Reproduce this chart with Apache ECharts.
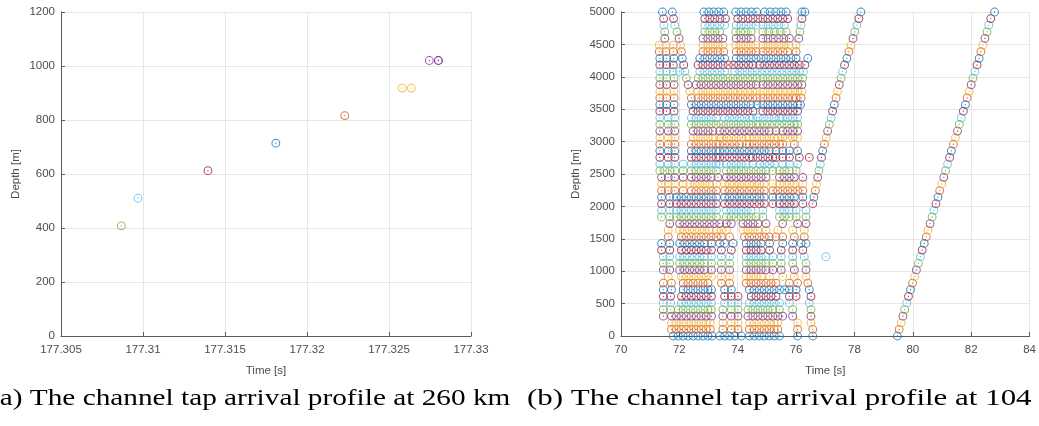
<!DOCTYPE html>
<html><head><meta charset="utf-8">
<script src="https://cdn.jsdelivr.net/npm/echarts@6/dist/echarts.min.js"></script>
<style>html,body{margin:0;padding:0;background:#fff;}#c{width:1039px;height:426px;}</style>
</head><body><div id="c"></div>
<script>
// MATLAB default colour order (colour of a row = row index mod 7)
const palette = ['#0072BD','#D95319','#EDB120','#7E2F8E','#77AC30','#4DBEEE','#A2142F'];

// ---- (a) 260 km ----
const leftTimes  = [177.30868, 177.30969, 177.31396, 177.31810, 177.32230, 177.32580, 177.32636, 177.32746, 177.32800, 177.32802];
const leftDepths = [408.16, 510.20, 612.24, 714.29, 816.33, 918.37, 918.37, 1020.41, 1020.41, 1020.41];
const leftRows   = [4, 5, 6, 7, 8, 9, 9, 10, 10, 10];
const leftXTicks = [177.305, 177.31, 177.315, 177.32, 177.325, 177.33];

// ---- (b) 104 km ----
const rightDepths = [0, 102.04, 204.08, 306.12, 408.16, 510.20, 612.24, 714.29, 816.33, 918.37,
  1020.41, 1122.45, 1224.49, 1326.53, 1428.57, 1530.61, 1632.65, 1734.69, 1836.73, 1938.78,
  2040.82, 2142.86, 2244.90, 2346.94, 2448.98, 2551.02, 2653.06, 2755.10, 2857.14, 2959.18,
  3061.22, 3163.27, 3265.31, 3367.35, 3469.39, 3571.43, 3673.47, 3775.51, 3877.55, 3979.59,
  4081.63, 4183.67, 4285.71, 4387.76, 4489.80, 4591.84, 4693.88, 4795.92, 4897.96, 5000];

const rightTimes = [
 [71.79,71.96,72.13,72.30,72.47,72.64,72.81,72.98,73.12,73.38,73.55,73.72,73.90,74.12,74.40,74.57,74.74,74.91,75.08,75.25,75.43,76.05,76.57,79.47],
 [71.73,71.90,72.07,72.24,72.41,72.58,72.75,72.92,73.06,73.49,73.78,74.01,74.40,74.57,74.74,74.91,75.08,75.25,75.37,76.05,76.57,79.53],
 [71.73,71.90,72.07,72.24,72.41,72.58,72.75,72.92,73.06,73.49,73.78,74.01,74.40,74.57,74.74,74.91,75.08,75.25,75.37,76.05,76.51,79.60],
 [71.45,71.73,71.90,72.07,72.24,72.41,72.58,72.75,72.92,73.10,73.49,73.78,74.01,74.35,74.52,74.69,74.86,75.03,75.20,75.37,75.54,75.88,76.51,79.66],
 [71.45,71.70,71.96,72.13,72.30,72.47,72.64,72.81,72.98,73.10,73.49,73.78,74.01,74.35,74.52,74.69,74.86,75.03,75.20,75.43,75.88,76.51,79.72],
 [71.45,71.70,72.07,72.24,72.41,72.58,72.75,72.92,73.10,73.55,73.78,74.01,74.40,74.57,74.74,74.91,75.08,75.25,75.43,75.77,76.45,79.79],
 [71.45,71.70,72.07,72.24,72.41,72.58,72.75,72.92,73.10,73.55,73.78,74.01,74.46,74.63,74.80,74.97,75.14,75.31,75.77,76.00,76.51,79.85],
 [71.45,71.73,72.13,72.30,72.47,72.64,72.81,72.98,73.10,73.55,73.78,74.40,74.57,74.74,74.91,75.08,75.25,75.43,75.60,75.77,76.00,76.45,79.92],
 [71.45,71.73,72.13,72.30,72.47,72.64,72.81,72.98,73.44,73.72,74.29,74.46,74.63,74.80,74.97,75.14,75.31,75.77,76.05,76.40,79.99],
 [71.62,72.07,72.24,72.41,72.58,72.75,72.92,73.10,73.44,73.72,74.29,74.46,74.63,74.80,75.09,75.54,75.94,76.34,80.06],
 [71.45,71.67,72.01,72.18,72.35,72.52,72.69,72.86,73.10,73.44,73.72,74.29,74.46,74.63,74.80,74.97,75.20,75.49,75.94,76.34,80.12],
 [71.45,71.67,72.01,72.18,72.35,72.52,72.69,72.86,73.10,73.44,73.72,74.29,74.46,74.63,74.80,74.97,75.20,75.49,75.88,76.34,80.19],
 [71.45,71.67,72.01,72.18,72.35,72.52,72.69,72.86,73.10,73.44,73.72,74.29,74.46,74.63,74.80,74.97,75.20,75.49,75.88,76.28,77.02,80.26],
 [71.39,71.67,72.07,72.24,72.41,72.58,72.75,72.92,73.10,73.44,73.78,74.29,74.46,74.63,74.80,75.09,75.49,75.88,76.23,80.32],
 [71.39,71.67,72.01,72.18,72.35,72.52,72.69,72.86,73.10,73.38,73.55,73.84,74.29,74.46,74.63,74.80,75.09,75.54,75.88,76.17,76.34,80.39],
 [71.62,72.07,72.24,72.41,72.58,72.75,72.92,73.09,73.27,73.44,73.72,74.23,74.40,74.57,74.74,74.91,75.08,75.31,75.54,75.94,76.28,80.46],
 [71.62,72.01,72.18,72.35,72.52,72.69,72.86,73.03,73.27,73.44,73.61,74.18,74.35,74.52,74.69,74.97,75.37,75.88,76.28,80.52],
 [71.67,72.01,72.18,72.35,72.52,72.69,72.86,73.03,73.20,73.38,73.61,73.78,74.18,74.35,74.52,74.69,74.97,75.54,76.05,76.34,80.59],
 [71.39,71.67,71.90,72.07,72.24,72.41,72.58,72.75,72.92,73.09,73.27,73.61,73.78,73.95,74.12,74.29,74.46,74.63,74.86,75.43,75.60,75.77,76.00,76.34,80.66],
 [71.39,71.67,71.90,72.07,72.24,72.41,72.58,72.75,72.92,73.09,73.27,73.61,73.78,73.95,74.12,74.29,74.46,74.86,75.43,75.60,75.77,76.00,76.34,80.72],
 [71.39,71.67,71.90,72.07,72.24,72.41,72.58,72.75,72.92,73.09,73.27,73.55,73.72,73.89,74.06,74.23,74.40,74.57,74.74,74.91,75.20,75.43,75.60,75.77,75.94,76.23,76.57,80.79],
 [71.39,71.67,71.90,72.07,72.24,72.41,72.58,72.75,72.92,73.09,73.27,73.55,73.72,73.89,74.06,74.23,74.40,74.57,74.74,74.91,75.20,75.43,75.60,75.77,75.94,76.23,76.61,80.86],
 [71.39,71.62,71.84,72.13,72.41,72.58,72.75,72.92,73.09,73.27,73.55,73.72,73.89,74.06,74.23,74.40,74.57,74.74,74.91,75.20,75.37,75.54,75.71,75.88,76.05,76.23,76.66,80.92],
 [71.39,71.62,71.84,72.13,72.36,72.53,72.70,72.87,73.04,73.27,73.55,73.72,73.89,74.06,74.23,74.40,74.57,74.74,74.91,75.20,75.43,75.60,75.77,75.94,76.23,76.70,80.99],
 [71.39,71.62,71.84,72.13,72.41,72.58,72.75,72.92,73.09,73.32,73.61,73.78,73.95,74.12,74.29,74.46,74.63,74.80,74.97,75.43,75.60,75.77,75.94,76.23,76.74,81.06],
 [71.33,71.50,71.67,71.84,72.13,72.41,72.58,72.75,72.92,73.09,73.27,73.61,73.78,73.95,74.12,74.29,74.46,74.63,74.80,74.97,75.20,75.43,75.60,75.77,76.00,76.78,81.12],
 [71.33,71.62,71.84,72.13,72.41,72.58,72.75,72.92,73.09,73.26,73.38,73.61,73.78,73.95,74.12,74.29,74.52,74.75,74.92,75.09,75.26,75.54,75.77,76.05,76.83,81.19],
 [71.33,71.62,71.84,72.41,72.58,72.75,72.92,73.09,73.26,73.38,73.55,73.72,73.89,74.06,74.23,74.40,74.52,74.69,74.86,75.03,75.20,75.31,75.54,75.77,76.11,76.45,76.87,81.26],
 [71.33,71.62,71.84,72.41,72.58,72.75,72.92,73.09,73.26,73.38,73.55,73.72,73.89,74.06,74.23,74.40,74.57,74.74,74.91,75.08,75.31,75.54,75.77,76.05,76.91,81.32],
 [71.33,71.62,71.84,72.41,72.58,72.75,72.92,73.09,73.26,73.38,73.55,73.72,73.89,74.06,74.29,74.40,74.57,74.74,74.91,75.08,75.25,75.43,75.54,75.94,76.97,81.39],
 [71.33,71.62,71.84,72.47,72.64,72.81,72.98,73.15,73.38,73.44,73.61,73.78,73.95,74.12,74.29,74.40,74.57,74.74,74.91,75.08,75.25,75.37,75.54,75.71,75.88,76.05,77.03,81.46],
 [71.33,71.62,71.84,72.47,72.64,72.81,72.98,73.15,73.38,73.55,73.72,73.89,74.06,74.23,74.40,74.57,74.74,74.91,75.08,75.31,75.54,75.71,75.88,76.05,77.08,81.53],
 [71.33,71.62,71.84,72.41,72.58,72.75,72.92,73.09,73.26,73.43,73.60,73.77,73.94,74.11,74.28,74.45,74.63,74.75,74.92,75.09,75.26,75.43,75.60,75.77,75.94,76.05,77.14,81.59],
 [71.33,71.62,71.84,72.41,72.58,72.75,72.92,73.09,73.27,73.55,73.72,73.89,74.06,74.23,74.40,74.52,74.70,74.88,75.06,75.24,75.43,75.54,75.71,75.88,76.05,77.20,81.66],
 [71.33,71.56,71.82,72.47,72.64,72.81,72.98,73.15,73.32,73.49,73.66,73.83,74.00,74.17,74.34,74.52,74.86,75.03,75.20,75.37,75.54,75.71,75.88,76.05,77.25,81.73],
 [71.33,71.56,71.82,72.41,72.58,72.75,72.92,73.09,73.26,73.43,73.60,73.77,73.94,74.11,74.28,74.45,74.66,74.86,75.03,75.20,75.37,75.54,75.71,75.88,76.05,76.15,77.31,81.80],
 [71.33,71.56,71.82,72.41,72.64,72.81,72.98,73.15,73.32,73.49,73.66,73.83,74.00,74.17,74.34,74.51,74.66,74.86,75.03,75.20,75.37,75.54,75.71,75.88,76.00,76.17,77.37,81.86],
 [71.33,71.56,71.82,72.36,72.64,72.81,72.98,73.15,73.32,73.49,73.66,73.83,74.00,74.17,74.34,74.51,74.66,74.86,75.03,75.20,75.37,75.54,75.71,75.88,76.05,76.20,77.42,81.93],
 [71.33,71.56,71.82,72.30,72.58,72.75,72.92,73.09,73.26,73.43,73.60,73.77,73.94,74.11,74.28,74.45,74.63,74.86,75.03,75.20,75.37,75.54,75.71,75.88,76.05,76.20,77.48,82.00],
 [71.33,71.56,71.82,72.24,72.64,72.81,72.98,73.15,73.32,73.49,73.66,73.83,74.00,74.17,74.34,74.51,74.66,74.86,75.03,75.20,75.37,75.54,75.71,75.88,76.05,76.22,77.54,82.06],
 [71.33,71.56,71.79,72.00,72.19,72.70,72.87,73.04,73.21,73.38,73.55,73.90,74.07,74.24,74.41,74.58,74.75,74.92,75.09,75.26,75.43,75.60,75.77,75.94,76.11,76.25,77.59,82.13],
 [71.33,71.56,71.79,72.15,72.64,72.81,72.98,73.15,73.32,73.50,73.68,73.86,74.03,74.20,74.37,74.52,74.75,74.92,75.09,75.26,75.43,75.60,75.77,75.94,76.11,76.30,77.66,82.20],
 [71.33,71.56,71.81,72.10,72.70,72.87,73.04,73.21,73.38,73.55,73.95,74.12,74.29,74.46,74.63,74.80,74.97,75.14,75.31,75.48,75.65,75.82,76.00,76.40,77.74,82.27],
 [71.31,71.54,71.79,72.07,72.81,72.98,73.15,73.32,73.52,73.95,74.12,74.29,74.46,74.63,74.86,75.03,75.20,75.37,75.54,75.71,76.00,77.81,82.33],
 [71.31,71.54,71.79,72.04,72.81,72.98,73.15,73.32,73.49,73.93,74.10,74.27,74.45,74.62,74.86,75.04,75.22,75.40,75.58,75.75,76.00,77.88,82.40],
 [71.50,71.99,72.81,72.98,73.15,73.32,73.49,73.95,74.12,74.29,74.46,74.86,75.04,75.22,75.40,75.58,75.77,76.09,77.95,82.47],
 [71.50,71.92,72.87,73.04,73.21,73.38,73.93,74.10,74.27,74.46,74.86,75.06,75.26,75.46,75.66,76.13,78.01,82.54],
 [71.47,71.84,72.87,73.04,73.21,73.38,73.55,73.95,74.12,74.29,74.46,74.63,74.86,75.04,75.22,75.40,75.60,76.17,78.08,82.60],
 [71.46,71.80,72.87,73.04,73.21,73.39,73.58,74.00,74.17,74.35,74.52,74.69,74.86,75.03,75.20,75.37,75.54,75.71,76.20,78.15,82.67],
 [71.42,71.76,72.84,73.01,73.18,73.35,73.52,73.93,74.11,74.29,74.47,74.65,74.92,75.11,75.30,75.48,75.66,76.20,76.30,78.22,82.80]
];
const rightXTicks = [70, 72, 74, 76, 78, 80, 82, 84];
const rightYTicks = [0, 500, 1000, 1500, 2000, 2500, 3000, 3500, 4000, 4500, 5000];

const leftCaption  = '(a) The channel tap arrival profile at 260 km';
const rightCaption = '(b) The channel tap arrival profile at 104';

// ---- build items ----
function ring(t, d, row) { return {value: [t, d], itemStyle: {borderColor: palette[row % 7]}}; }
function dot(t, d, row)  { return {value: [t, d], itemStyle: {color: palette[row % 7]}}; }

const leftRing = [], leftDot = [];
leftTimes.forEach((t, k) => { leftRing.push(ring(t, leftDepths[k], leftRows[k])); leftDot.push(dot(t, leftDepths[k], leftRows[k])); });
const rightRing = [], rightDot = [];
rightTimes.forEach((row, i) => row.forEach(t => { rightRing.push(ring(t, rightDepths[i], i)); rightDot.push(dot(t, rightDepths[i], i)); }));

const txt = '#4d4d4d', axisCol = '#5a5a5a', gridCol = '#e6e6e6';
const FONT = 'Liberation Sans, Arial, sans-serif';
function xAx(idx, min, max, interval, fmt) {
  return {type: 'value', gridIndex: idx, min, max, interval,
    name: 'Time [s]', nameLocation: 'middle', nameGap: 29,
    nameTextStyle: {color: txt, fontSize: 11.5, fontFamily: FONT},
    axisLine: {show: true, onZero: false, lineStyle: {color: axisCol, width: 1}},
    axisTick: {show: true, inside: true, length: 4, lineStyle: {color: axisCol}},
    axisLabel: {color: txt, fontSize: 11.5, fontFamily: FONT, margin: 8, formatter: fmt},
    splitLine: {show: true, lineStyle: {color: gridCol, width: 1}}};
}
function yAx(idx, min, max, interval, gap) {
  return {type: 'value', gridIndex: idx, min, max, interval,
    name: 'Depth [m]', nameLocation: 'middle', nameGap: gap, nameRotate: 90,
    nameTextStyle: {color: txt, fontSize: 11.5, fontFamily: FONT},
    axisLine: {show: true, onZero: false, lineStyle: {color: axisCol, width: 1}},
    axisTick: {show: true, inside: true, length: 4, lineStyle: {color: axisCol}},
    axisLabel: {color: txt, fontSize: 11.5, fontFamily: FONT, margin: 6, formatter: v => String(v)},
    splitLine: {show: true, lineStyle: {color: gridCol, width: 1}}};
}
function ringSeries(idx, data) {
  return {type: 'scatter', xAxisIndex: idx, yAxisIndex: idx, symbol: 'circle', symbolSize: 7.8,
    itemStyle: {color: 'rgba(0,0,0,0)', borderWidth: 1}, data, silent: true, large: false};
}
function dotSeries(idx, data) {
  return {type: 'scatter', xAxisIndex: idx, yAxisIndex: idx, symbol: 'circle', symbolSize: 1.3,
    itemStyle: {opacity: 0.9}, data, silent: true, large: false};
}

const chart = echarts.init(document.getElementById('c'), null, {renderer: 'canvas'});
chart.setOption({
  animation: false,
  backgroundColor: '#ffffff',
  grid: [
    {left: 61, top: 12, width: 410, height: 324},
    {left: 621, top: 12, width: 410, height: 324}
  ],
  xAxis: [
    xAx(0, leftXTicks[0], leftXTicks[leftXTicks.length - 1], 0.005, v => String(+v.toFixed(3))),
    xAx(1, rightXTicks[0], rightXTicks[rightXTicks.length - 1], 2, v => String(v))
  ],
  yAxis: [
    yAx(0, 0, 1200, 200, 39),
    yAx(1, rightYTicks[0], rightYTicks[rightYTicks.length - 1], 500, 39)
  ],
  series: [ringSeries(0, leftRing), dotSeries(0, leftDot), ringSeries(1, rightRing), dotSeries(1, rightDot)],
  graphic: [
    {type: 'text', x: -10, y: 387, scaleX: 1.22, style: {text: leftCaption, fill: '#000', font: '24px "Liberation Serif", "DejaVu Serif", serif'}},
    {type: 'text', x: 527, y: 387, scaleX: 1.29, style: {text: rightCaption, fill: '#000', font: '24px "Liberation Serif", "DejaVu Serif", serif'}}
  ]
});
</script></body></html>
